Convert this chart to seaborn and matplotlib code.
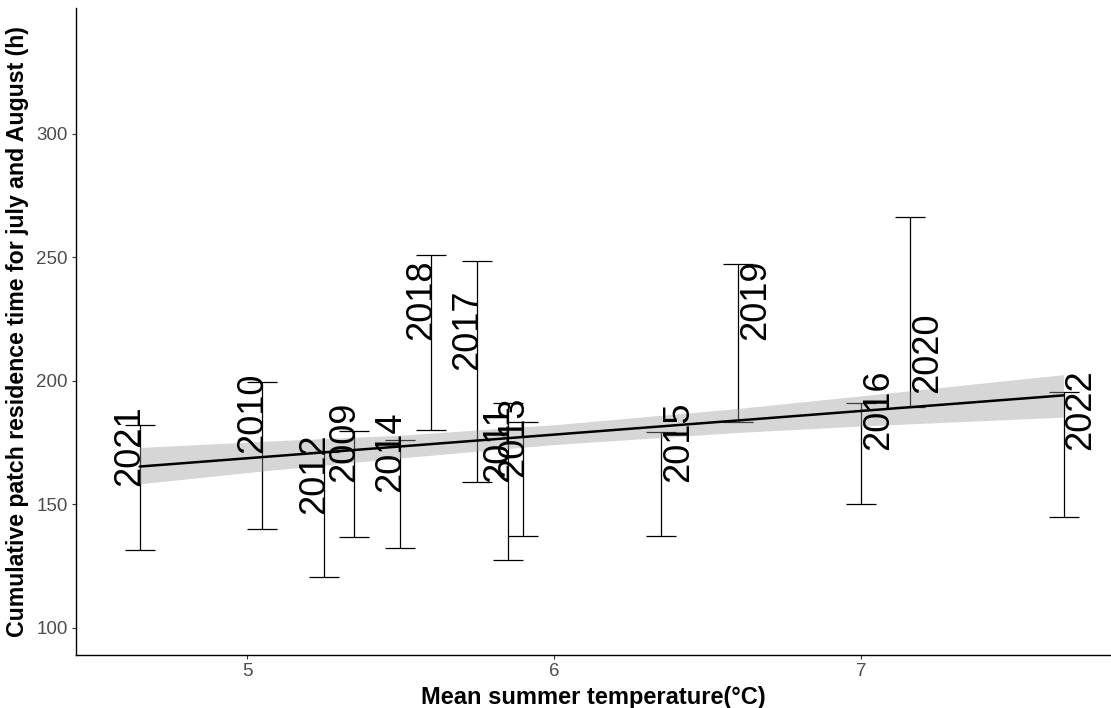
import matplotlib
matplotlib.use("Agg")
import matplotlib.pyplot as plt
import seaborn as sns
import pandas as pd

# Yearly summaries
years = [2021, 2010, 2012, 2009, 2014, 2018, 2017, 2011, 2013, 2015, 2019, 2016, 2020, 2022]
temp = [4.65, 5.05, 5.25, 5.35, 5.50, 5.60, 5.75, 5.85, 5.90, 6.35, 6.60, 7.00, 7.16, 7.66]
res_mean = [157.4, 170.6, 146.3, 159.1, 155.1, 216.4, 204.2, 159.1, 161.1, 159.1, 216.4, 171.9, 195.1, 171.9]
res_low = [131.5, 139.9, 120.7, 136.9, 132.2, 180.0, 159.1, 127.5, 137.3, 137.3, 183.2, 150.1, 189.5, 145.0]
res_high = [182.0, 199.5, 171.1, 179.7, 176.2, 251.0, 248.4, 190.9, 183.2, 179.3, 247.3, 191.2, 266.2, 195.5]

# Linear fit and its confidence band
fit_temp = [4.65, 7.66]
fit_res = [165.3, 194.1]
band_temp = [4.65, 5.05, 5.5, 6.0, 6.6, 7.0, 7.66]
band_low = [158.3, 163.5, 168.8, 174.2, 179.1, 181.7, 185.3]
band_high = [173.0, 175.5, 178.0, 182.2, 188.8, 193.9, 202.5]

df = pd.DataFrame({'year': years, 'temp': temp, 'mean': res_mean, 'low': res_low, 'high': res_high})
fit = pd.DataFrame({'temp': fit_temp, 'res': fit_res})

sns.set_theme(style='white')
plt.rcParams['font.family'] = ['Liberation Sans', 'DejaVu Sans']

fig, ax = plt.subplots(figsize=(11.11, 7.08), dpi=100)
fig.subplots_adjust(left=0.0684, right=0.999, bottom=0.075, top=0.989)

# error bars
ax.errorbar(df['temp'], df['mean'], yerr=[df['mean'] - df['low'], df['high'] - df['mean']],
            fmt='none', ecolor='black', elinewidth=0.9, capsize=11, capthick=0.9, zorder=2)

# regression band + line
ax.fill_between(band_temp, band_low, band_high, color='#999999', alpha=0.4, linewidth=0, zorder=3)
sns.lineplot(data=fit, x='temp', y='res', color='black', linewidth=1.8, ax=ax, zorder=4)

ax.set_xlim(4.443, 7.811)
ax.set_ylim(89.1, 350.9)
x_mid = sum(ax.get_xlim()) / 2

# year labels, pointing outward
for _, row in df.iterrows():
    left = row['temp'] < x_mid
    ax.text(row['temp'], row['mean'], str(int(row['year'])), rotation=90, rotation_mode='anchor',
            ha='left', va='baseline' if left else 'top', fontsize=26, color='black', zorder=5)

ax.set_xticks([5, 6, 7])
ax.set_yticks([100, 150, 200, 250, 300])
ax.tick_params(axis='both', which='both', length=3, width=0.8, color='#333333',
               labelsize=13.5, labelcolor='#4D4D4D', pad=3, left=True, bottom=True)

sns.despine(ax=ax)
for side in ['left', 'bottom']:
    ax.spines[side].set_color('black')
    ax.spines[side].set_linewidth(1.0)

ax.set_xlabel('Mean summer temperature(°C)', fontsize=17, fontweight='bold', color='black', labelpad=4)
ax.set_ylabel('Cumulative patch residence time for july and August (h)', fontsize=16.7,
              fontweight='bold', color='black', labelpad=5)

fig.savefig('out.png', dpi=100)
